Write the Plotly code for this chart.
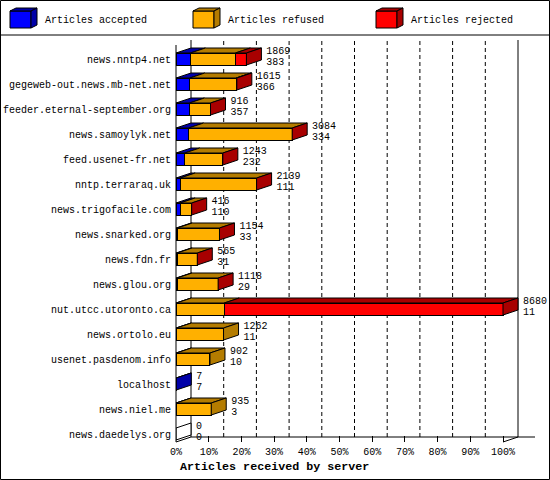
import plotly.graph_objects as go

servers = ["news.nntp4.net", "gegeweb-out.news.mb-net.net", "feeder.eternal-september.org",
           "news.samoylyk.net", "feed.usenet-fr.net", "nntp.terraraq.uk", "news.trigofacile.com",
           "news.snarked.org", "news.fdn.fr", "news.glou.org", "nut.utcc.utoronto.ca",
           "news.ortolo.eu", "usenet.pasdenom.info", "localhost", "news.niel.me", "news.daedelys.org"]
total = [1869, 1615, 916, 3084, 1243, 2139, 416, 1154, 565, 1118, 8680, 1262, 902, 7, 935, 0]
accepted = [383, 366, 357, 334, 232, 111, 110, 33, 31, 29, 11, 11, 10, 7, 3, 0]
refused = [1194, 1230, 559, 2750, 1011, 2028, 306, 1121, 534, 1089, 1270, 1251, 892, None, 932, None]
rejected = [292, 19, 0, 0, 0, 0, 0, 0, 0, 0, 7399, None, None, None, None, None]
series_names = ["Articles accepted", "Articles refused", "Articles rejected"]
x_ticks = [0, 10, 20, 30, 40, 50, 60, 70, 80, 90, 100]

FRONT = ["#0000ff", "#ffb000", "#ff0000"]
DARK = ["#0000a8", "#b47c00", "#a80000"]
FONT = "Liberation Mono, DejaVu Sans Mono, monospace"

W, H = 550, 480
L, R, T, B = 176, 549, 40, 442
PXX = 3.27            # pixels per percent
PXY = 25.0            # pixels per row
ROW0 = 59             # pixel of first row
XR = (R - L) / PXX
Y_TOP = (T - ROW0) / PXY
Y_BOT = (B - ROW0) / PXY
DX = 15 / PXX
DY = 5 / PXY
HW = 0.24

max_total = max(total)
idx = list(range(len(servers)))


def pct(v):
    return None if v is None else v / max_total * 100


def px(xp):
    return (xp - L) / (R - L)


def py(yp):
    return (B - yp) / (B - T)


fig = go.Figure()

# front faces
for k, vals in enumerate([accepted, refused, rejected]):
    fig.add_trace(go.Bar(
        y=idx, x=[pct(v) for v in vals], orientation="h", width=2 * HW,
        marker=dict(color=FRONT[k], line=dict(color="black", width=1)),
        name=series_names[k], showlegend=False, hoverinfo="skip"))

# top and side faces computed from the data
tops = {0: ([], []), 1: ([], []), 2: ([], [])}
sides = {0: ([], []), 1: ([], []), 2: ([], []), 3: ([], [])}
ends = []
for i in idx:
    x0 = 0.0
    last = 3
    for k, vals in enumerate([accepted, refused, rejected]):
        v = vals[i]
        if v is None:
            continue
        x1 = x0 + pct(v)
        last = k
        if v > 0:
            xs, ys = tops[k]
            xs += [x0, x1, x1 + DX, x0 + DX, x0, None]
            ys += [i - HW, i - HW, i - HW - DY, i - HW - DY, i - HW, None]
        x0 = x1
    if total[i] == 0:
        last = 3
    xs, ys = sides[last]
    xs += [x0, x0 + DX, x0 + DX, x0, x0, None]
    ys += [i - HW, i - HW - DY, i + HW - DY, i + HW, i - HW, None]
    ends.append(x0)

for k in range(3):
    xs, ys = tops[k]
    if xs:
        fig.add_trace(go.Scatter(x=xs, y=ys, mode="lines", fill="toself", fillcolor=DARK[k],
                                 line=dict(color="black", width=1), showlegend=False,
                                 hoverinfo="skip", cliponaxis=False))
for k in range(4):
    xs, ys = sides[k]
    if xs:
        fig.add_trace(go.Scatter(x=xs, y=ys, mode="lines", fill="toself",
                                 fillcolor=DARK[k] if k < 3 else "white",
                                 line=dict(color="black", width=1), showlegend=False,
                                 hoverinfo="skip", cliponaxis=False))

# value labels
fig.add_trace(go.Scatter(x=[e + DX + 1.5 for e in ends], y=[i - 0.31 for i in idx], mode="text",
                         text=[str(t) for t in total], textposition="middle right",
                         textfont=dict(family=FONT, size=10, color="black"),
                         showlegend=False, hoverinfo="skip", cliponaxis=False))
fig.add_trace(go.Scatter(x=[e + DX + 1.5 for e in ends], y=[i + 0.14 for i in idx], mode="text",
                         text=[str(a) for a in accepted], textposition="middle right",
                         textfont=dict(family=FONT, size=10, color="black"),
                         showlegend=False, hoverinfo="skip", cliponaxis=False))

shapes = []
# outer frame and legend separator
shapes.append(dict(type="rect", xref="paper", yref="paper", x0=px(0.5), x1=px(549.5),
                   y0=py(0.5), y1=py(479.5), line=dict(color="black", width=1), layer="below"))
shapes.append(dict(type="line", xref="paper", yref="paper", x0=px(0), x1=px(550),
                   y0=py(35), y1=py(35), line=dict(color="black", width=1)))
# back wall grid lines
for t in x_ticks:
    solid = t in (0, 100)
    shapes.append(dict(type="line", xref="x", yref="paper", x0=t + DX, x1=t + DX,
                       y0=py(437), y1=py(40),
                       line=dict(color="black", width=1, dash="solid" if solid else "4px,3px"),
                       layer="below"))
# front y axis line and floor
shapes.append(dict(type="line", xref="paper", yref="paper", x0=px(176), x1=px(176),
                   y0=py(442), y1=py(45), line=dict(color="black", width=1)))
shapes.append(dict(type="line", xref="paper", yref="paper", x0=px(191), x1=px(535),
                   y0=py(437), y1=py(437), line=dict(color="black", width=1)))
for t in (0, 100):
    shapes.append(dict(type="line", xref="x", yref="paper", x0=t, x1=t + DX,
                       y0=py(442), y1=py(437), line=dict(color="black", width=1)))

# legend cubes
annotations = []
for k in range(3):
    ox = 183 * k
    fx0, fx1, fy0, fy1 = 10 + ox, 31 + ox, 11, 28
    shapes.append(dict(type="rect", xref="paper", yref="paper", x0=px(fx0), x1=px(fx1),
                       y0=py(fy1), y1=py(fy0), fillcolor=FRONT[k], line=dict(color="black", width=1)))
    top = f"M {px(fx0)} {py(fy0)} L {px(fx1)} {py(fy0)} L {px(fx1 + 6)} {py(fy0 - 3)} L {px(fx0 + 6)} {py(fy0 - 3)} Z"
    side = f"M {px(fx1)} {py(fy0)} L {px(fx1 + 6)} {py(fy0 - 3)} L {px(fx1 + 6)} {py(fy1 - 3)} L {px(fx1)} {py(fy1)} Z"
    shapes.append(dict(type="path", xref="paper", yref="paper", path=top,
                       fillcolor=DARK[k], line=dict(color="black", width=1)))
    shapes.append(dict(type="path", xref="paper", yref="paper", path=side,
                       fillcolor=DARK[k], line=dict(color="black", width=1)))
    annotations.append(dict(xref="paper", yref="paper", x=px(43 + ox), y=py(20),
                            xanchor="left", yanchor="middle", showarrow=False,
                            text=series_names[k], font=dict(family=FONT, size=10, color="black")))

annotations.append(dict(xref="paper", yref="paper", x=px(274), y=py(467), xanchor="center",
                        yanchor="middle", showarrow=False, text="<b>Articles received by server</b>",
                        font=dict(family=FONT, size=11.7, color="black")))

fig.update_layout(
    width=W, height=H, margin=dict(l=L, r=W - R, t=T, b=H - B, autoexpand=False),
    paper_bgcolor="white", plot_bgcolor="white",
    barmode="stack", bargap=0, showlegend=False,
    font=dict(family=FONT, size=10, color="black"),
    xaxis=dict(range=[0, XR], tickvals=x_ticks, ticktext=[f"{t}%" for t in x_ticks],
               ticks="inside", ticklen=6, tickcolor="black", showgrid=False, zeroline=False,
               showline=False, ticklabelstandoff=2, fixedrange=True, automargin=False),
    yaxis=dict(range=[Y_BOT, Y_TOP], tickvals=idx, ticktext=servers, ticks="",
               showgrid=False, zeroline=False, showline=False, ticklabelstandoff=4,
               fixedrange=True, automargin=False),
    shapes=shapes, annotations=annotations,
)

fig.write_html("out.html", config={"displayModeBar": False, "staticPlot": True},
               post_script="document.body.style.margin='0';document.body.style.overflow='hidden';")
